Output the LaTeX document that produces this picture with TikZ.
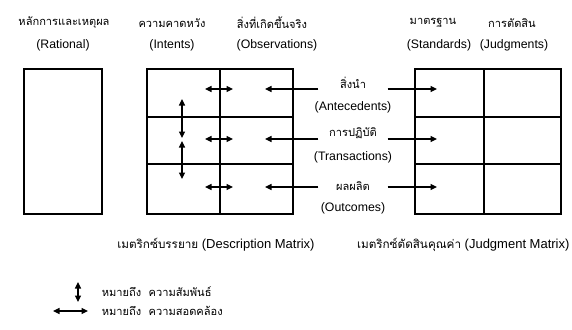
\documentclass[tikz,border=0pt]{standalone}
\usepackage{fontspec}
\setmainfont{Liberation Sans}
\newfontfamily\thai[Script=Thai,Scale=0.9]{Loma}
\usetikzlibrary{arrows.meta, positioning}

\begin{document}
\begin{tikzpicture}[>={Stealth[length=6.5pt,width=6pt,inset=0pt]}, x=1pt, y=-1pt, font=\fontsize{12.3}{14}\selectfont, line width=1.1pt]
\useasboundingbox (0,0) rectangle (572,329);
\tikzset{midlabel/.style={inner sep=0pt, minimum width=68pt},
  caption/.style={font=\fontsize{13}{15}\selectfont}}
%
\node (rat th) at (64,23) {\thai หลักการและเหตุผล};
\node (rat en) at (63,45) {(Rational)};
\node (int th) at (172,23) {\thai ความคาดหวัง};
\node (int en) at (172,45) {(Intents)};
\node (obs th) at (272,23) {\thai สิ่งที่เกิดขึ้นจริง};
\node (obs en) at (277,45) {(Observations)};
\node (std th) at (433,23) {\thai มาตรฐาน};
\node (std en) at (439,45) {(Standards)};
\node (jdg th) at (512,23) {\thai การตัดสิน};
\node (jdg en) at (514,45) {(Judgments)};
%
\draw (24,69) rectangle (102,214);
\draw (147,69) rectangle (293,214);
\draw (220,69) -- (220,214);
\draw (147,117) -- (293,117) (147,164) -- (293,164);
\draw (415,69) rectangle (561,214);
\draw (484,69) -- (484,214);
\draw (415,117) -- (561,117) (415,164) -- (561,164);
%
\node[midlabel] (ante) at (353,83) {\thai สิ่งนำ};
\node (ante en) at (353,107) {(Antecedents)};
\node[midlabel] (trans) at (353,133) {\thai การปฏิบัติ};
\node (trans en) at (353,157) {(Transactions)};
\node[midlabel] (outc) at (353,186) {\thai ผลผลิต};
\node (outc en) at (353,208) {(Outcomes)};
%
\coordinate (obs a) at (265,89);
\coordinate (obs t) at (265,139);
\coordinate (obs o) at (265,187);
\coordinate (std a) at (437,89);
\coordinate (std t) at (437,139);
\coordinate (std o) at (437,187);
\draw[->] (ante.west |- obs a) -- (obs a);
\draw[->] (trans.west |- obs t) -- (obs t);
\draw[->] (outc.west |- obs o) -- (obs o);
\draw[->] (ante.east |- std a) -- (std a);
\draw[->] (trans.east |- std t) -- (std t);
\draw[->] (outc.east |- std o) -- (std o);
%
\foreach \y in {89,139,187}
  \draw[<->] (205,\y) -- (233,\y);
\coordinate (v top) at (182,99);
\coordinate (v mid1) at (182,138);
\coordinate (v mid2) at (182,141);
\coordinate (v bot) at (182,179);
\draw[<->] (v top) -- (v mid1);
\draw[<->] (v mid2) -- (v bot);
%
\node[caption] (desc) at (216,245) {{\thai เมตริกซ์บรรยาย} (Description Matrix)};
\node[caption, anchor=east, inner sep=0pt] (judg) at (570,245) {{\thai เมตริกซ์ตัดสินคุณค่า} (Judgment Matrix)};
%
\coordinate (leg v1) at (78,282);
\coordinate (leg v2) at (78,302);
\coordinate (leg h1) at (53,311);
\coordinate (leg h2) at (88,311);
\draw[<->] (leg v1) -- (leg v2);
\draw[<->] (leg h1) -- (leg h2);
\node[anchor=west] (leg rel) at (98,292) {\thai หมายถึง\ \ ความสัมพันธ์};
\node[anchor=west] (leg con) at (98,311) {\thai หมายถึง\ \ ความสอดคล้อง};
\end{tikzpicture}
\end{document}
